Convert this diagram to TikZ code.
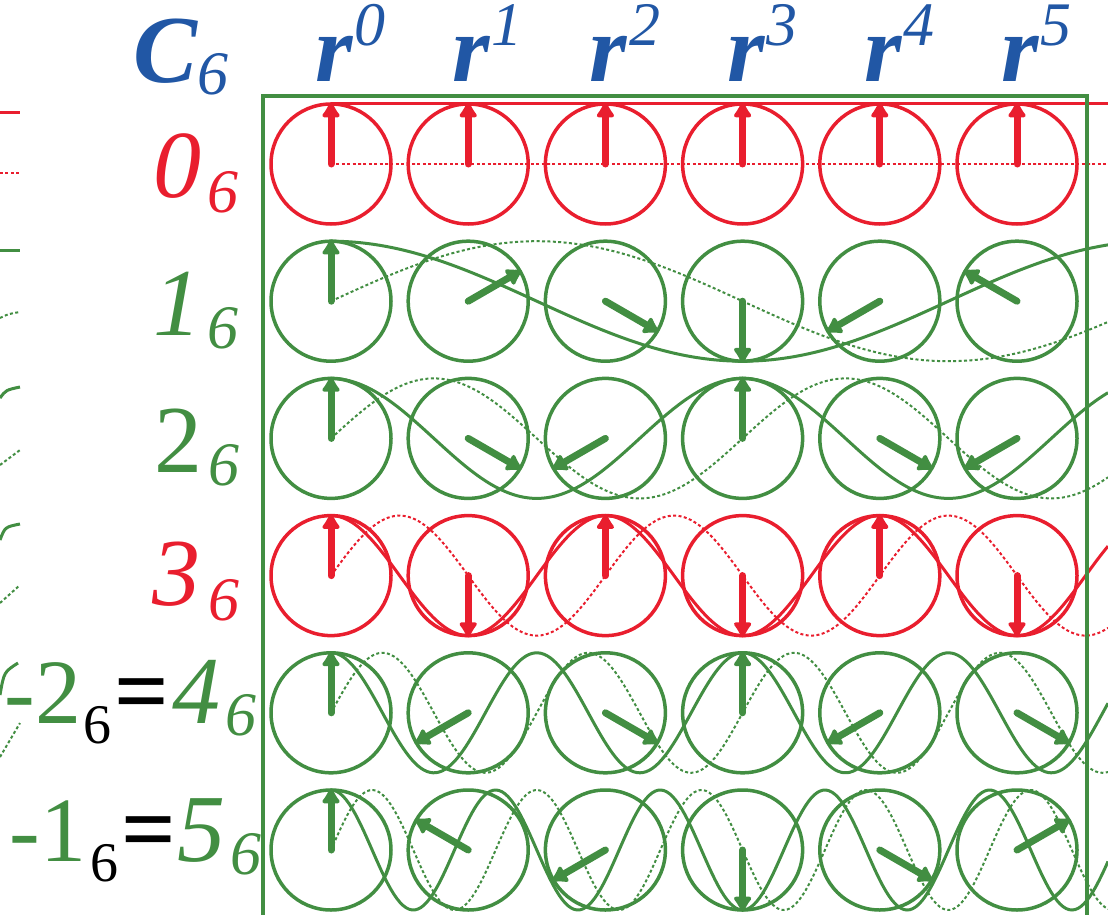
\documentclass[tikz,border=0pt]{standalone}
\usepackage{fontspec}
\setmainfont{Liberation Serif}
\usepackage{tikz}
\usetikzlibrary{arrows.meta, positioning}
\definecolor{cred}{RGB}{233,30,46}
\definecolor{cgreen}{RGB}{66,142,66}
\definecolor{cblue}{RGB}{33,87,165}
\newcommand{\bigfont}{\fontsize{48}{48}\selectfont}
\newcommand{\scrfont}{\fontsize{31}{31}\selectfont}
\tikzset{
    dial/.style={circle, draw, line width=1.75pt, inner sep=0pt, minimum size=60pt},
    wave/.style={line width=1.5pt},
    ripple/.style={line width=1pt, dash pattern=on 1.5pt off 1.2pt},
    hand/.style={line width=3.5pt, line cap=round, -{Latex[length=9pt,width=11pt,round]}},
    gridframe/.style={draw=cgreen, line width=2pt},
    lab/.style={inner sep=0pt, anchor=base west}
}
\begin{document}
\begin{tikzpicture}[x=0.5pt, y=-0.5pt]
    \clip (0,0) rectangle (1108,915);
    % Dials
    \foreach \m/\col in {0/cred,1/cgreen,2/cgreen,3/cred,4/cgreen,5/cgreen}{
        \foreach \k in {0,...,5}
            \node [dial, draw=\col] (c\m\k) at (331+137.2*\k, 164+137.2*\m) {};
    }

    % Projections
    \foreach \m/\col in {0/cred,1/cgreen,2/cgreen,3/cred,4/cgreen,5/cgreen}{
        \draw [wave, \col] plot[domain=331:1108, samples=260] (\x, {164+137.2*\m-60*cos(60*\m/137.2*(\x-331))});
        \draw [ripple, \col] plot[domain=331:1108, samples=260] (\x, {164+137.2*\m-60*sin(60*\m/137.2*(\x-331))});
    }

    % Ends of the curves on the left
    \draw [wave, cred] (0,113) -- (20,113);
    \draw [ripple, cred] (0,173) -- (20,173);
    \draw [wave, cgreen] (0,250) -- (20,250);
    \draw [ripple, cgreen] (0,318) .. controls (8,314) .. (20,312);
    \draw [wave, cgreen] (0,398) .. controls (6,390) .. (20,387);
    \draw [ripple, cgreen] (0,465) -- (20,450);
    \draw [wave, cgreen] (0,540) .. controls (5,527) .. (20,524);
    \draw [ripple, cgreen] (0,603) -- (20,585);
    \draw [wave, cgreen] (0,695) .. controls (4,672) .. (18,663);
    \draw [ripple, cgreen] (0,757) -- (20,723);

    % Hands
    \foreach \m/\col in {0/cred,1/cgreen,2/cgreen,3/cred,4/cgreen,5/cgreen}{
        \foreach \k [evaluate=\k as \ang using {int(mod(3690-60*\m*\k,360))}] in {0,...,5}
            \draw [hand, \col] (c\m\k.center) -- (c\m\k.\ang);
    }

    \draw [gridframe] (263,96) rectangle (1087,960);

    % Header
    \node [lab, cblue] (grp) at (133,83) {{\bigfont\bfseries\itshape C}\raisebox{-6pt}{\scrfont\itshape 6}};
    \foreach \k in {0,...,5}
        \node [lab, cblue] (r\k) at (315+137.2*\k, 82) {{\bigfont\bfseries\itshape r}\kern1pt\raisebox{18pt}[20pt][0pt]{\scrfont\itshape \k}};

    % Row labels
    \node [lab, cred] (l0) at (153,198) {{\bigfont\itshape 0}\kern3pt\raisebox{-7pt}{\scrfont\itshape 6}};
    \node [lab, cgreen] (l1) at (153,335) {{\bigfont\itshape 1}\kern3pt\raisebox{-6.5pt}{\scrfont\itshape 6}};
    \node [lab, cgreen] (l2) at (154,472) {{\bigfont 2}\kern3pt\raisebox{-6.5pt}{\scrfont\itshape 6}};
    \node [lab, cred] (l3) at (152,605) {{\bigfont\itshape 3}\kern4pt\raisebox{-7.5pt}{\scrfont\itshape 6}};
    \node [lab, cgreen] (l4) at (4,723) {{\fontsize{46}{46}\selectfont -2}\kern1pt\raisebox{-10pt}{\color{black}\fontsize{28}{28}\selectfont 6}\kern1.5pt{\color{black}\bigfont\bfseries =}\kern2pt{\bigfont\itshape 4}\kern2.5pt\raisebox{-6pt}{\scrfont\itshape 6}};
    \node [lab, cgreen] (l5) at (9,861) {{\fontsize{46}{46}\selectfont -1}\kern2pt\raisebox{-10pt}{\color{black}\fontsize{28}{28}\selectfont 6}\kern1.5pt{\color{black}\bigfont\bfseries =}\kern1pt{\bigfont\itshape 5}\kern2.5pt\raisebox{-6.5pt}{\scrfont\itshape 6}};
\end{tikzpicture}
\end{document}
